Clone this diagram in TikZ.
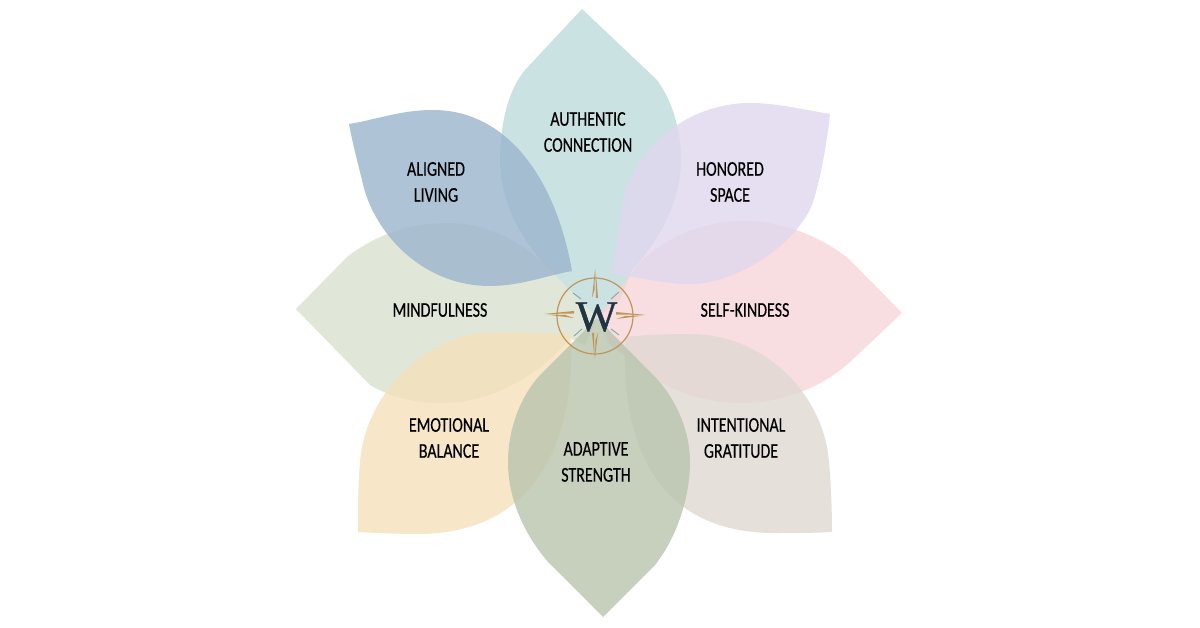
\documentclass[tikz,border=0pt]{standalone}
\usepackage{fontspec}
\setmainfont[FakeStretch=0.76,FakeBold=0.3]{Carlito}
\newfontfamily\logofont[FakeBold=1]{Liberation Serif}
\usetikzlibrary{positioning}
\definecolor{authentic}{RGB}{191,219,220}
\definecolor{aligned}{RGB}{156,180,204}
\definecolor{honored}{RGB}{224,215,238}
\definecolor{kindness}{RGB}{247,213,218}
\definecolor{gratitude}{RGB}{224,217,210}
\definecolor{adaptive}{RGB}{184,197,173}
\definecolor{emotional}{RGB}{245,224,187}
\definecolor{mindful}{RGB}{217,226,207}
\definecolor{gold}{RGB}{190,150,90}
\definecolor{navy}{RGB}{32,52,68}
\definecolor{tick}{RGB}{140,170,170}
\tikzset{
  petal/.style={fill=#1, fill opacity=0.8, draw=none},
  petaltext/.style={font=\fontsize{21}{26}\selectfont, align=center, text=black, inner sep=0pt},
  needle/.style={fill=gold, draw=none},
  tickline/.style={draw=tick, line width=1pt},
}
\begin{document}
\begin{tikzpicture}[x=1pt,y=-1pt]
  \fill[white] (0,0) rectangle (1200,628);
  \useasboundingbox (0,0) rectangle (1200,628);

  % petals
  \path[petal=authentic] (582,9) -- (525,70) .. controls (508,90) and (500,125) .. (500,160)
    .. controls (500,200) and (520,240) .. (550,270) -- (597,318) -- (620,300) -- (632,270)
    .. controls (660,240) and (681,200) .. (681,160)
    .. controls (681,130) and (672,100) .. (657,80) -- cycle;
  \path[petal=mindful] (296,309) -- (347,257) .. controls (375,235) and (410,223) .. (447,223)
    .. controls (490,223) and (530,245) .. (560,280) -- (597,318) -- (585,345) -- (570,338)
    .. controls (545,370) and (495,403) .. (443,403)
    .. controls (415,403) and (390,397) .. (370,385) -- cycle;
  \path[petal=emotional] (358,532) .. controls (358,510) and (358,485) .. (360,462)
    .. controls (365,395) and (425,332) .. (497,332)
    .. controls (525,332) and (550,333) .. (571,335)
    .. controls (575,410) and (555,534) .. (417,534)
    .. controls (397,534) and (378,533) .. (358,532) -- cycle;
  \path[petal=kindness] (902,313) -- (850,260) .. controls (820,235) and (780,221) .. (743,221)
    .. controls (705,221) and (670,235) .. (640,262) -- (597,318) -- (610,345) -- (645,372)
    .. controls (672,392) and (705,403) .. (743,403)
    .. controls (785,403) and (825,385) .. (850,362) -- cycle;
  \path[petal=honored] (830,114) .. controls (805,110) and (778,103) .. (750,103)
    .. controls (690,103) and (635,145) .. (623,202)
    .. controls (618,225) and (616,250) .. (612,273)
    .. controls (640,278) and (665,284) .. (690,284)
    .. controls (740,284) and (800,240) .. (813,202)
    .. controls (820,180) and (826,150) .. (830,114) -- cycle;
  \path[petal=gratitude] (832,532) .. controls (832,510) and (831,485) .. (829,462)
    .. controls (824,395) and (765,334) .. (690,334)
    .. controls (670,334) and (645,335) .. (625,337)
    .. controls (622,410) and (635,533) .. (775,533)
    .. controls (795,533) and (815,533) .. (832,532) -- cycle;
  \path[petal=aligned] (349,124) .. controls (375,120) and (400,110) .. (433,110)
    .. controls (505,110) and (555,175) .. (572,271)
    .. controls (545,276) and (520,286) .. (490,286)
    .. controls (420,286) and (372,230) .. (362,180)
    .. controls (357,160) and (353,145) .. (349,124) -- cycle;
  \path[petal=adaptive] (603,617) -- (548,562) .. controls (525,535) and (508,500) .. (508,462)
    .. controls (508,430) and (520,395) .. (543,372) -- (597,318) -- (650,372)
    .. controls (675,395) and (690,430) .. (690,462)
    .. controls (690,500) and (675,540) .. (655,565) -- cycle;

  % labels
  \node[petaltext] (authenticlabel) at (588,132) {AUTHENTIC\\CONNECTION};
  \node[petaltext] (alignedlabel) at (436,182) {ALIGNED\\LIVING};
  \node[petaltext] (honoredlabel) at (730,182) {HONORED\\SPACE};
  \node[petaltext] (mindfullabel) at (440,310) {MINDFULNESS};
  \node[petaltext] (kindnesslabel) at (745,310) {SELF-KINDESS};
  \node[petaltext] (emotionallabel) at (449,438) {EMOTIONAL\\BALANCE};
  \node[petaltext] (gratitudelabel) at (741,438) {INTENTIONAL\\GRATITUDE};
  \node[petaltext] (adaptivelabel) at (596,462) {ADAPTIVE\\STRENGTH};

  % compass
  \draw[gold, line width=1.2pt] (595,316) circle (38);
  \fill[needle] (595.5,268) -- (598,298) -- (596,298) -- cycle;
  \fill[needle] (595,270) -- (594.5,290) -- (592,298) -- cycle;
  \fill[needle] (594.5,359) -- (592,333) -- (594,333) -- cycle;
  \fill[needle] (595,357) -- (595.5,340) -- (598,333) -- cycle;
  \fill[needle] (646,315) -- (616,312) -- (616,314.5) -- cycle;
  \fill[needle] (644,315.5) -- (625,316) -- (616,319) -- cycle;
  \fill[needle] (544,314) -- (574,311) -- (574,313.5) -- cycle;
  \fill[needle] (546,314.5) -- (565,315) -- (574,318) -- cycle;
  \draw[tickline] (573,293) -- (581,299);
  \draw[tickline] (619,292) -- (611,299);
  \draw[tickline] (574,336) -- (582,329);
  \draw[tickline] (619,335) -- (611,329);
  \node[font=\logofont\fontsize{44}{44}\selectfont, text=navy, inner sep=0pt] (logo) at (596.5,317) {W};
\end{tikzpicture}
\end{document}
